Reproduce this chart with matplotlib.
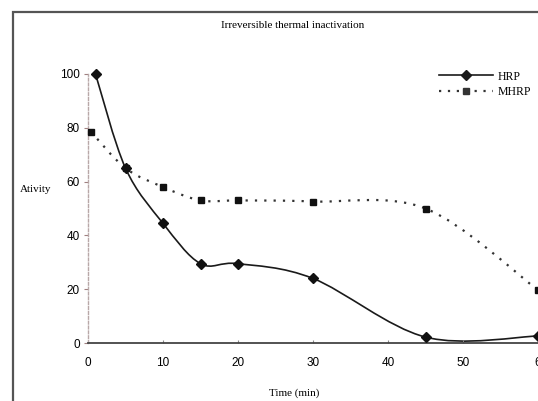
import numpy as np
import matplotlib
matplotlib.use("Agg")
import matplotlib.pyplot as plt
from matplotlib.path import Path
from matplotlib.patches import PathPatch, Rectangle
from matplotlib.lines import Line2D

# Data
hrp_t = [1, 5, 10, 15, 20, 30, 45, 60]
hrp_v = [100, 65, 44.5, 29.5, 29.5, 24, 2.2, 2.6]
mhrp_t = [0.4, 5, 10, 15, 20, 30, 45, 60]
mhrp_v = [78.5, 65, 58, 53, 53, 52.6, 50, 19.7]
x_ticks = [0, 10, 20, 30, 40, 50, 60]
x_labels = ["0", "10", "20", "30", "40", "50", "6"]
y_ticks = [0, 20, 40, 60, 80, 100]

title = "Irreversible thermal inactivation"
xlabel = "Time (min)"
ylabel = "Ativity"

W, H = 538, 401
fig = plt.figure(figsize=(W / 100, H / 100), dpi=100)
ax = fig.add_axes([88 / W, (H - 343) / H, 450 / W, 269 / H])


def smooth_path(xs, ys, k=1 / 6):
    xs = np.asarray(xs, float)
    ys = np.asarray(ys, float)
    n = len(xs)
    verts = [(xs[0], ys[0])]
    codes = [Path.MOVETO]
    for i in range(n - 1):
        p0 = np.array([xs[max(i - 1, 0)], ys[max(i - 1, 0)]])
        p1 = np.array([xs[i], ys[i]])
        p2 = np.array([xs[i + 1], ys[i + 1]])
        p3 = np.array([xs[min(i + 2, n - 1)], ys[min(i + 2, n - 1)]])
        c1 = p1 + (p2 - p0) * k
        c2 = p2 - (p3 - p1) * k
        verts += [tuple(c1), tuple(c2), tuple(p2)]
        codes += [Path.CURVE4] * 3
    return Path(verts, codes)


ax.add_patch(PathPatch(smooth_path(hrp_t, hrp_v), fill=False, edgecolor="#1a1a1a",
                       lw=1.2, clip_on=False))
ax.add_patch(PathPatch(smooth_path(mhrp_t, mhrp_v), fill=False, edgecolor="#333333",
                       lw=1.6, linestyle=(0, (1, 3.2)), clip_on=False))
ax.plot(hrp_t, hrp_v, linestyle="none", marker="D", ms=5, color="#111111", clip_on=False, zorder=5)
ax.plot(mhrp_t, mhrp_v, linestyle="none", marker="s", ms=5, color="#111111",
        markeredgecolor="#111111", clip_on=False, zorder=5)

ax.set_xlim(0, 60)
ax.set_ylim(0, 100)

for s in ["top", "right"]:
    ax.spines[s].set_visible(False)
ax.spines["left"].set_color("#b8a8a8")
ax.spines["left"].set_linestyle((0, (2, 1.5)))
ax.spines["left"].set_linewidth(1.0)
ax.spines["bottom"].set_color("#444444")
ax.spines["bottom"].set_linewidth(1.3)

ax.set_xticks(x_ticks)
ax.set_xticklabels(x_labels)
ax.set_yticks(y_ticks)
ax.tick_params(axis="y", length=3, color="#a08080", labelsize=8.5, pad=3)
ax.tick_params(axis="x", length=2, direction="in", color="#888888", labelsize=8.5, pad=10)
for lab in ax.get_xticklabels() + ax.get_yticklabels():
    lab.set_fontfamily("Liberation Sans")

fig.text(293 / W, 1 - 26 / H, title, ha="center", va="center",
         fontfamily="Liberation Serif", fontsize=8)
fig.text(294 / W, 1 - 393 / H, xlabel, ha="center", va="center",
         fontfamily="Liberation Serif", fontsize=8)
fig.text(20 / W, 1 - 190 / H, ylabel, ha="left", va="center",
         fontfamily="Liberation Serif", fontsize=8)

handles = [
    Line2D([], [], color="#1a1a1a", lw=1.2, marker="D", ms=5),
    Line2D([], [], color="#333333", lw=1.6, linestyle=(0, (1, 3)), marker="s", ms=5),
]
leg = ax.legend(handles, ["HRP", "MHRP"], loc="upper left",
                bbox_to_anchor=(428 / W, 1 - 60 / H), bbox_transform=fig.transFigure,
                frameon=False, handlelength=4.6, handletextpad=0.4, labelspacing=0.3,
                prop={"family": "Liberation Serif", "size": 8.5})

fig.patches.append(Rectangle((13 / W, -0.1), 1.2, (H - 12) / H + 0.1,
                             transform=fig.transFigure, fill=False,
                             edgecolor="#555555", lw=1.6))

fig.savefig("out.png", dpi=100)
